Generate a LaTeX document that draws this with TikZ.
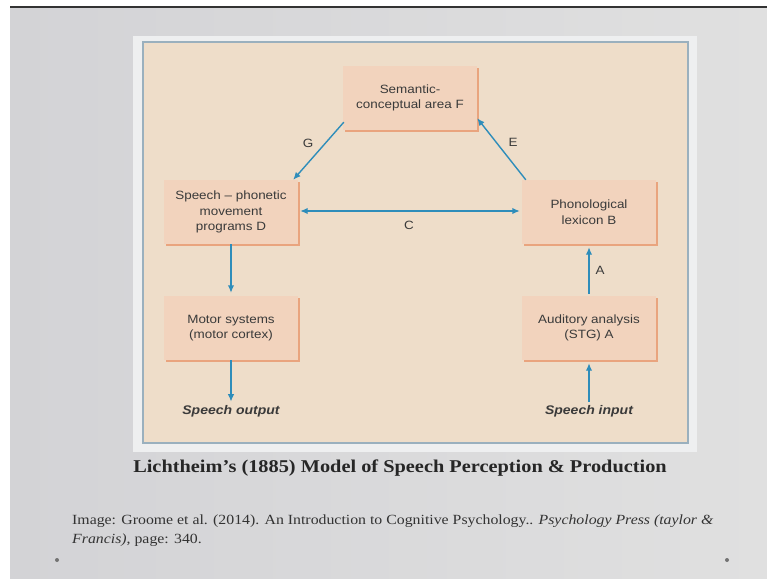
\documentclass[tikz,border=0pt]{standalone}
\usepackage{fontspec}
\setmainfont{Liberation Serif}[FakeStretch=1.13]
\setsansfont{Liberation Sans}[FakeStretch=1.12]
\usetikzlibrary{arrows.meta,shadows}
\definecolor{panel}{HTML}{EEDDC9}
\definecolor{boxfill}{HTML}{F2D3BD}
\definecolor{boxedge}{HTML}{E9A47E}
\definecolor{arrowblue}{HTML}{2E8DBA}
\definecolor{frameblue}{HTML}{9AB0BE}
\definecolor{txt}{HTML}{3A3A3A}
\definecolor{slideL}{HTML}{D3D3D6}
\definecolor{slideM}{HTML}{EAEAEA}
\definecolor{slideR}{HTML}{E0E0E0}
\definecolor{margin}{HTML}{EEEFF0}
\tikzset{
  box/.style={fill=boxfill, minimum width=134pt, minimum height=64pt, inner sep=0pt,
    align=center, text=txt, font=\sffamily\fontsize{12}{15.5}\selectfont,
    general shadow={fill=boxedge, shadow xshift=1.5pt, shadow yshift=-1.5pt}},
  io/.style={text=txt, font=\sffamily\bfseries\itshape\fontsize{12.5}{14}\selectfont},
  lbl/.style={text=txt, font=\sffamily\fontsize{12}{14}\selectfont},
  arr/.style={draw=arrowblue, line width=1.4pt, -{Latex[length=7.5pt,width=6.5pt]}},
  darr/.style={draw=arrowblue, line width=1.4pt, {Latex[length=7.5pt,width=6.5pt]}-{Latex[length=7.5pt,width=6.5pt]}}
}
\begin{document}
\begin{tikzpicture}[x=1pt,y=-1pt]
\useasboundingbox (0,0) rectangle (767,578);
\fill[white] (0,0) rectangle (767,578);
\shade[left color=slideL, middle color=slideM, right color=slideR] (10,7) rectangle (767,578);
\draw[line width=1.6pt, black!80] (10,7) -- (767,7);
\fill[margin] (133,36) rectangle (697,452);
\draw[frameblue, line width=1.2pt, fill=panel] (143,42) rectangle (688,443);

\node[box] (F) at (410,98) {Semantic-\\conceptual area F};
\node[box] (D) at (231,212) {Speech – phonetic\\movement\\programs D};
\node[box] (B) at (589,212) {Phonological\\lexicon B};
\node[box] (M) at (231,328) {Motor systems\\(motor cortex)};
\node[box] (Au) at (589,328) {Auditory analysis\\(STG) A};
\node[io] (out) at (231,411) {Speech output};
\node[io] (in) at (589,411) {Speech input};

\draw[arr] ([xshift=1pt,yshift=8pt]F.south west) -- ([xshift=-5pt]D.north east);
\draw[arr] ([xshift=4pt]B.north west) -- ([yshift=12pt]F.south east);
\draw[darr] ([xshift=2pt,yshift=1pt]D.east) -- ([xshift=-2pt,yshift=1pt]B.west);
\draw[arr] ([yshift=2pt]Au.north) -- ([yshift=-3pt]B.south);
\draw[arr] (D.south) -- ([yshift=3pt]M.north);
\draw[arr] (M.south) -- (out.north);
\draw[arr] (in.north) -- ([yshift=-3pt]Au.south);

\node[lbl] (lG) at (308,143) {G};
\node[lbl] (lE) at (513,142) {E};
\node[lbl] (lC) at (409,225) {C};
\node[lbl] (lA) at (600,270) {A};

\node[font=\bfseries\fontsize{18}{22}\selectfont, text=black!85] (cap) at (400,468)
  {Lichtheim’s (1885) Model of Speech Perception \& Production};
\node[anchor=west, align=left, inner sep=0pt, text=black!80, font=\fontsize{14}{19}\selectfont] (src) at (72,531)
  {Image: Groome et al. (2014). An Introduction to Cognitive Psychology.. \textit{Psychology Press (taylor \&}\\
   \textit{Francis)}, page: 340.};
\fill[gray!90!black] (57,560) circle (2);
\fill[gray!90!black] (727,560) circle (2);
\end{tikzpicture}
\end{document}
